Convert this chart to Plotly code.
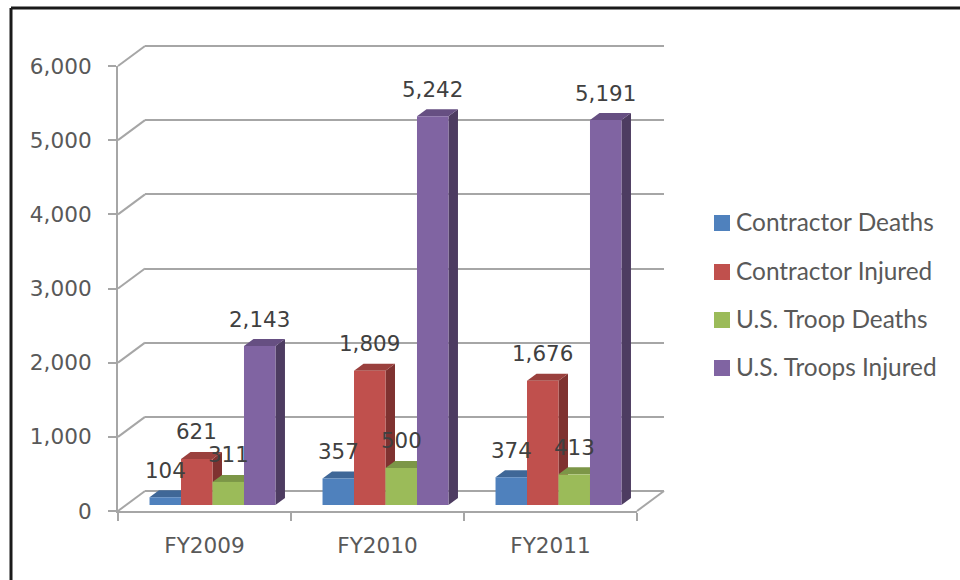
import plotly.graph_objects as go

# Chart data
categories = ["FY2009", "FY2010", "FY2011"]
series_names = ["Contractor Deaths", "Contractor Injured", "U.S. Troop Deaths", "U.S. Troops Injured"]
contractor_deaths = [104, 357, 374]
contractor_injured = [621, 1809, 1676]
troop_deaths = [311, 500, 413]
troops_injured = [2143, 5242, 5191]
y_ticks = [0, 1000, 2000, 3000, 4000, 5000, 6000]

series_values = [contractor_deaths, contractor_injured, troop_deaths, troops_injured]
front_colors = ["#4f81bd", "#c0504d", "#9bbb59", "#8064a2"]
top_colors = ["#3f6797", "#9a403d", "#7c9647", "#664f82"]
side_colors = ["#2f4d71", "#7f3230", "#5d7035", "#4d3c61"]

# Page and plot geometry, in pixels
W, H = 960, 580
FRONT_L, FRONT_R, FRONT_B, FRONT_T = 118, 637, 511, 66
WALL_DX, WALL_DY = 27, 20      # how far the back wall sits behind the front axes
BAR_DX, BAR_DY = 8, 6          # how far the bar fronts sit behind the front axes
FACE_DX, FACE_DY = 9.5, 7      # depth of each bar
GRID = "#a6a6a6"
Y_MAX = 6000
WALL_HEADROOM = 100            # wall axis runs past the top tick so its gridline is kept
BAR_GROUP = 0.728


def dom_x(left, right):
    return [left / W, right / W]


def dom_y(bottom, top):
    return [1 - bottom / H, 1 - top / H]


px_per_cat = (FRONT_R - FRONT_L) / len(categories)
px_per_val = (FRONT_B - FRONT_T) / Y_MAX
depth_x = FACE_DX / px_per_cat
depth_y = FACE_DY / px_per_val
bar_w = BAR_GROUP / len(series_values)
cat_pos = list(range(len(categories)))
cat_range = [-0.5, len(categories) - 0.5]

fig = go.Figure()

# The back wall needs a trace so that its subplot and gridlines exist
fig.add_trace(go.Scatter(
    x=cat_pos, y=[0] * len(cat_pos), mode="lines", line=dict(width=0),
    xaxis="x", yaxis="y", showlegend=False, hoverinfo="skip"))

# Outlined frame on the page: a canvas subplot measured in pixels
for tick in y_ticks:
    y = FRONT_B - tick * px_per_val
    fig.add_trace(go.Scatter(
        x=[FRONT_L, FRONT_L + WALL_DX], y=[y, y - WALL_DY], mode="lines",
        line=dict(color=GRID, width=2), xaxis="x2", yaxis="y2",
        showlegend=False, hoverinfo="skip"))
fig.add_trace(go.Scatter(
    x=[FRONT_R, FRONT_R + WALL_DX], y=[FRONT_B, FRONT_B - WALL_DY], mode="lines",
    line=dict(color=GRID, width=2), xaxis="x2", yaxis="y2",
    showlegend=False, hoverinfo="skip"))

# Key on the right
LEGEND_Y = [223, 272, 320, 368]
for name, color, ly in zip(series_names, front_colors, LEGEND_Y):
    fig.add_trace(go.Scatter(
        x=[722], y=[ly], mode="markers", name=name,
        marker=dict(symbol="square", size=16, color=color),
        xaxis="x2", yaxis="y2", showlegend=False, hoverinfo="skip"))
    fig.add_annotation(
        x=734, y=ly, xref="x2", yref="y2", text=name, showarrow=False,
        xanchor="left", yanchor="middle", yshift=2,
        font=dict(family="Lato", size=24.4, color="#595959"))

# Front axes with ticks and tick labels
fig.add_trace(go.Scatter(
    x=categories, y=[0] * len(categories), mode="lines",
    line=dict(width=0), xaxis="x3", yaxis="y3",
    showlegend=False, hoverinfo="skip"))

# Top and side faces of the bars, painted back to front under the fronts
for i, values in enumerate(series_values):
    for pos, val in zip(cat_pos, values):
        left = pos - BAR_GROUP / 2 + i * bar_w
        right = left + bar_w
        fig.add_trace(go.Scatter(
            x=[right, right + depth_x, right + depth_x, right],
            y=[0, depth_y, val + depth_y, val],
            mode="lines", fill="toself", fillcolor=side_colors[i],
            line=dict(width=0), xaxis="x4", yaxis="y4",
            showlegend=False, hoverinfo="skip"))
        fig.add_trace(go.Scatter(
            x=[left, right, right + depth_x, left + depth_x],
            y=[val, val, val + depth_y, val + depth_y],
            mode="lines", fill="toself", fillcolor=top_colors[i],
            line=dict(width=0), xaxis="x4", yaxis="y4",
            showlegend=False, hoverinfo="skip"))

# Bar fronts and their value labels
for i, (name, values) in enumerate(zip(series_names, series_values)):
    fig.add_trace(go.Bar(
        x=cat_pos, y=values, name=name, marker=dict(color=front_colors[i], line=dict(width=0)),
        xaxis="x5", yaxis="y5", showlegend=False))
    for pos, val in zip(cat_pos, values):
        fig.add_annotation(
            x=pos - BAR_GROUP / 2 + (i + 0.5) * bar_w, y=val, xref="x5", yref="y5",
            text=f"{val:,}", showarrow=False, yshift=27,
            xanchor="center", yanchor="middle",
            font=dict(family="DejaVu Sans", size=21.4, color="#404040"))

hidden = dict(visible=False, fixedrange=True)
tick_font = dict(family="DejaVu Sans", size=21.6, color="#595959")

fig.update_layout(
    width=W, height=H, autosize=False,
    margin=dict(l=0, r=0, t=0, b=0, autoexpand=False),
    paper_bgcolor="white", plot_bgcolor="rgba(0,0,0,0)",
    showlegend=False, barmode="group",
    bargap=1 - BAR_GROUP, bargroupgap=0,
    # back wall gridlines
    xaxis=dict(hidden, domain=dom_x(FRONT_L + WALL_DX, FRONT_R + WALL_DX), range=cat_range),
    yaxis=dict(domain=dom_y(FRONT_B - WALL_DY, FRONT_T - WALL_DY - WALL_HEADROOM * px_per_val),
               range=[0, Y_MAX + WALL_HEADROOM],
               tickvals=y_ticks, showticklabels=False, ticks="", showline=False,
               showgrid=True, gridcolor=GRID, gridwidth=2,
               zeroline=True, zerolinecolor=GRID, zerolinewidth=2, fixedrange=True),
    # pixel canvas
    xaxis2=dict(hidden, domain=[0, 1], range=[0, W], anchor="y2"),
    yaxis2=dict(hidden, domain=[0, 1], range=[H, 0], anchor="x2"),
    # front axes
    xaxis3=dict(domain=dom_x(FRONT_L, FRONT_R), type="category",
                categoryorder="array", categoryarray=categories, range=cat_range,
                tickson="boundaries", ticks="outside", ticklen=8, tickwidth=2, tickcolor=GRID,
                showline=True, linecolor=GRID, linewidth=2, showgrid=False, zeroline=False,
                tickfont=tick_font, ticklabelstandoff=14, anchor="y3", fixedrange=True),
    yaxis3=dict(domain=dom_y(FRONT_B, FRONT_T), range=[0, Y_MAX], tickvals=y_ticks,
                tickformat=",", ticks="outside", ticklen=8, tickwidth=2, tickcolor=GRID,
                showline=True, linecolor=GRID, linewidth=2, showgrid=False, zeroline=False,
                tickfont=tick_font, ticklabelstandoff=12, anchor="x3", fixedrange=True),
    # bar depth faces
    xaxis4=dict(hidden, domain=dom_x(FRONT_L + BAR_DX, FRONT_R + BAR_DX), range=cat_range, anchor="y4"),
    yaxis4=dict(hidden, domain=dom_y(FRONT_B - BAR_DY, FRONT_T - BAR_DY), range=[0, Y_MAX], anchor="x4"),
    # bar fronts
    xaxis5=dict(hidden, domain=dom_x(FRONT_L + BAR_DX, FRONT_R + BAR_DX), range=cat_range, anchor="y5"),
    yaxis5=dict(hidden, domain=dom_y(FRONT_B - BAR_DY, FRONT_T - BAR_DY), range=[0, Y_MAX], anchor="x5"),
    shapes=[
        dict(type="line", xref="paper", yref="paper", x0=11 / W, x1=1, y0=1 - 8 / H, y1=1 - 8 / H,
             line=dict(color="#1a1a1a", width=3)),
        dict(type="line", xref="paper", yref="paper", x0=11 / W, x1=11 / W, y0=0, y1=1 - 8 / H,
             line=dict(color="#1a1a1a", width=3)),
    ],
)

fig.write_html("out.html")
